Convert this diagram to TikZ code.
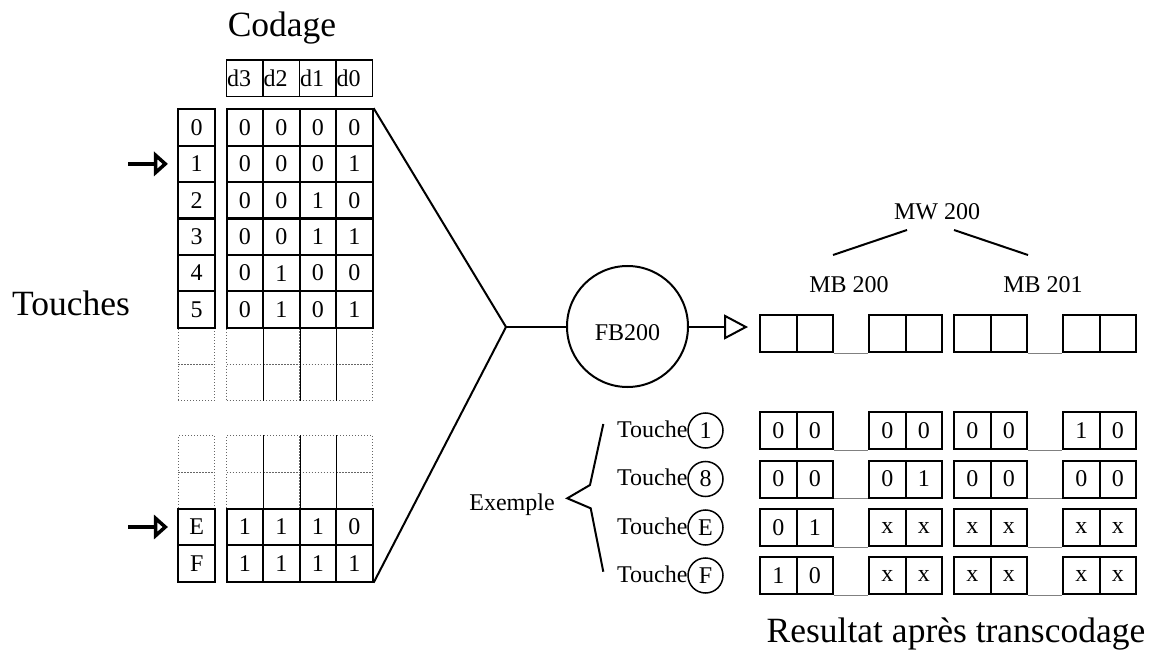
\documentclass[tikz,border=0pt]{standalone}
\usepackage{fontspec}
\setmainfont{Liberation Serif}
\usetikzlibrary{arrows.meta}
\begin{document}
\begin{tikzpicture}[x=1pt,y=-1pt,
  cell/.style={draw,line width=2pt,minimum width=36.5pt,minimum height=36.5pt,inner sep=0pt,font=\fontsize{24}{28}\selectfont},
  hcell/.style={cell,line width=1.6pt,text width=35.5pt,inner xsep=0.5pt,align=left},
  ecell/.style={draw=black!60,dotted,line width=1pt,minimum width=36.5pt,minimum height=36.5pt,inner sep=0pt},
  inner/.style={line width=0.8pt},
  rcell/.style={cell,minimum height=37pt},
  gap/.style={draw=black!50,line width=1pt},
  big/.style={font=\fontsize{35.5}{40}\selectfont,inner sep=0pt},
  small/.style={font=\fontsize{24}{28}\selectfont,inner sep=0pt},
  keycirc/.style={draw,circle,line width=1.5pt,minimum size=35pt,inner sep=0pt,font=\fontsize{24}{28}\selectfont},
  link/.style={line width=2pt},
  keyarrow/.style={line width=4pt,-{Triangle[open,length=14pt,width=24pt]}},
  fbarrow/.style={line width=2pt,-{Triangle[open,length=24pt,width=25pt]}}
]
\useasboundingbox (0,0) rectangle (1163,650);

% titles
\node[big,anchor=base] (codage) at (282,37) {Codage};
\node[big,anchor=base] (touches) at (71,315) {Touches};
\node[big,anchor=base] (result) at (956,642) {Resultat après transcodage};

% header
\foreach \j/\x/\t in {1/244.9/d3,2/281.4/d2,3/317.9/d1,4/354.4/d0}
  \node[hcell] (h\j) at (\x,78.3) {\t};

% empty rows
\foreach \n/\y in {U1/345.9,U2/382.3,L1/454.2,L2/490.6}{
  \node[ecell] (k\n) at (196.7,\y) {};
  \foreach \j/\x in {1/244.9,2/281.4,3/317.9,4/354.4}
    \node[ecell] (c\n-\j) at (\x,\y) {};
}
\foreach \j in {1,2,3}{
  \draw[inner] (cU1-\j.north east) -- (cU2-\j.south east);
  \draw[inner] (cL1-\j.north east) -- (cL2-\j.south east);
}

% filled rows
\foreach \k/\y/\a/\b/\c/\d in {0/127.5/0/0/0/0,1/163.9/0/0/0/1,2/200.3/0/0/1/0,3/236.7/0/0/1/1,4/273.1/0/1/0/0,5/309.5/0/1/0/1,E/527/1/1/1/0,F/563.4/1/1/1/1}{
  \node[cell] (k\k) at (196.7,\y) {\k};
  \node[cell] (c\k-1) at (244.9,\y) {\a};
  \node[cell] (c\k-2) at (281.4,\y) {\b};
  \node[cell] (c\k-3) at (317.9,\y) {\c};
  \node[cell] (c\k-4) at (354.4,\y) {\d};
}

% pointer arrows
\coordinate (a1) at (128,163.9);
\coordinate (aE) at (128,527);
\draw[keyarrow,shorten >=9.5pt] (a1) -- (k1.west);
\draw[keyarrow,shorten >=9.5pt] (aE) -- (kE.west);

% function block
\node[draw,circle,line width=2pt,minimum size=121pt,inner sep=0pt,text height=27pt,text depth=0pt,font=\fontsize{24}{28}\selectfont] (fb) at (627.5,326.5) {FB200};
\coordinate (J) at (506,327);
\draw[link] (c0-4.north east) -- (J) -- (cF-4.south east);
\draw[link] (J) -- (J -| fb.west);
\coordinate (tip) at (748,327);
\draw[fbarrow] (fb.east |- tip) -- (tip);

% word / bytes
\node[small,anchor=base] (mw) at (937,219) {MW 200};
\node[small,anchor=base] (mb0) at (849,292) {MB 200};
\node[small,anchor=base] (mb1) at (1043,292) {MB 201};
\coordinate (m1) at (833,255);
\coordinate (m2) at (907,230);
\coordinate (m3) at (954,230);
\coordinate (m4) at (1028,255);
\draw[link] (m1) -- (m2);
\draw[link] (m3) -- (m4);

\foreach \j/\x in {1/778.25,2/814.75,3/887.25,4/923.75,5/972.25,6/1008.75,7/1081.25,8/1117.75}
  \node[rcell] (t\j) at (\x,333.5) {};
\draw[gap] (t2.south east) -- (t3.south west);
\draw[gap] (t6.south east) -- (t7.south west);

% examples
\node[small,anchor=base] (ex) at (512,510) {Exemple};
\coordinate (b1) at (603.3,424);
\coordinate (b2) at (590,485);
\coordinate (b3) at (567.3,498.3);
\coordinate (b4) at (590.7,508.3);
\coordinate (b5) at (603.3,571.7);
\draw[link] (b1) -- (b2) -- (b3) -- (b4) -- (b5);

\foreach \r/\y/\t/\vals in {1/430.5/1/{0,0,0,0,0,0,1,0},2/479/8/{0,0,0,1,0,0,0,0},3/527.5/E/{0,1,x,x,x,x,x,x},4/575.5/F/{1,0,x,x,x,x,x,x}}{
  \node[small,anchor=base west] (tl\r) at (617,{\y+6.5}) {Touche};
  \node[keycirc] (tc\r) at (705.5,\y) {\t};
  \foreach \v [count=\j] in \vals {
    \pgfmathsetmacro\xx{{778.25,814.75,887.25,923.75,972.25,1008.75,1081.25,1117.75}[\j-1]}
    \node[rcell] (r\r-\j) at (\xx,\y) {\v};
  }
  \draw[gap] (r\r-2.south east) -- (r\r-3.south west);
  \draw[gap] (r\r-6.south east) -- (r\r-7.south west);
}
\end{tikzpicture}
\end{document}
